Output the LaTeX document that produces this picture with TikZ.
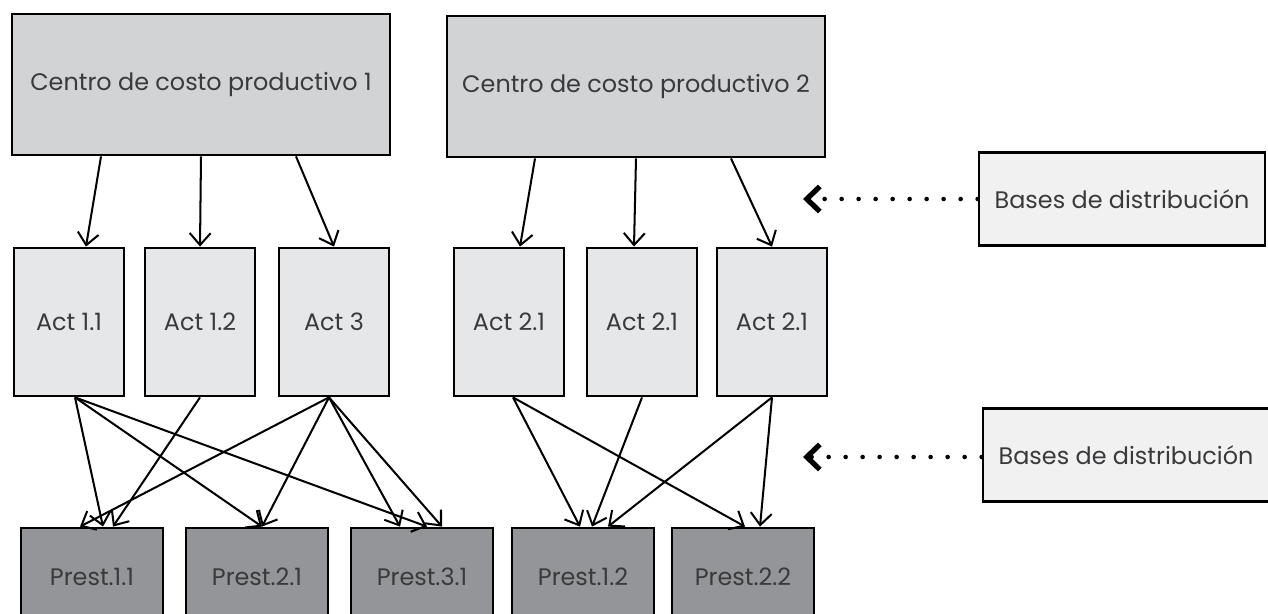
\documentclass[tikz,border=0pt]{standalone}
\usepackage{fontspec}
\setmainfont{Poppins}
\definecolor{centrofill}{HTML}{D1D3D4}
\definecolor{actfill}{HTML}{E6E7E8}
\definecolor{prestfill}{HTML}{939598}
\definecolor{basefill}{HTML}{F1F1F2}
\definecolor{txtgray}{HTML}{3A393B}
\usetikzlibrary{arrows.meta,positioning}

\begin{document}
\begin{tikzpicture}[x=0.02cm,y=-0.02cm,
    box/.style={rectangle,draw=black,line width=1.6pt,inner sep=0pt,
                align=center,text=txtgray,font=\fontsize{13.6}{16}\selectfont},
    centro/.style={box,fill=centrofill,minimum width=7.56cm,minimum height=2.82cm},
    act/.style={box,fill=actfill,minimum width=2.2cm,minimum height=2.96cm},
    prest/.style={box,fill=prestfill,minimum width=2.84cm,minimum height=1.96cm},
    base/.style={box,fill=basefill,minimum width=5.72cm,minimum height=1.86cm},
    arr/.style={-{Straight Barb[length=0.24cm,width=0.42cm]},line width=1.15pt},
    dots/.style={-{Straight Barb[length=0.26cm,width=0.5cm,line width=3pt]},
                 line width=2.6pt,line cap=round,dash pattern=on 0pt off 0.34cm}]
  \useasboundingbox (0,0) rectangle (1268,614);

  % centros de costo
  \node[centro] (c1) at (201,84.5) {Centro de costo productivo 1};
  \node[centro] (c2) at (636,86.5) {Centro de costo productivo 2};

  % actividades
  \node[act] (a11) at (69,322) {Act 1.1};
  \node[act] (a12) at (200,322) {Act 1.2};
  \node[act] (a13) at (334,322) {Act 3};
  \node[act] (a21) at (509,322) {Act 2.1};
  \node[act] (a22) at (642,322) {Act 2.1};
  \node[act] (a23) at (772,322) {Act 2.1};

  % prestaciones
  \node[prest] (p11) at (92,577) {Prest.1.1};
  \node[prest] (p21) at (257,577) {Prest.2.1};
  \node[prest] (p31) at (422,577) {Prest.3.1};
  \node[prest] (p12) at (583,577) {Prest.1.2};
  \node[prest] (p22) at (743,577) {Prest.2.2};

  % bases de distribucion
  \node[base] (b1) at (1122,199) {Bases de distribución};
  \node[base] (b2) at (1126,455) {Bases de distribución};
  \coordinate (t1) at (803,199);
  \coordinate (t2) at (803,457);
  \draw[dots] (b1.west) -- (t1);
  \draw[dots] ([yshift=-0.04cm]b2.west) -- (t2);

  % centro -> actividad
  \draw[arr] ([xshift=-2cm]c1.south) -- ([xshift=0.34cm]a11.north);
  \draw[arr] (c1.south) -- (a12.north);
  \draw[arr] ([xshift=1.9cm]c1.south) -- (a13.north);
  \draw[arr] ([xshift=-2.02cm]c2.south) -- ([xshift=0.22cm]a21.north);
  \draw[arr] (c2.south) -- ([xshift=-0.16cm]a22.north);
  \draw[arr] ([xshift=1.9cm]c2.south) -- (a23.north);

  % actividad -> prestacion
  \draw[arr] ([xshift=0.12cm]a11.south) -- ([xshift=0.22cm]p11.north);
  \draw[arr] ([xshift=0.12cm]a11.south) -- ([xshift=0.1cm]p21.north);
  \draw[arr] ([xshift=0.12cm]a11.south) -- ([xshift=0.1cm]p31.north);
  \draw[arr] (a12.south) -- ([xshift=0.42cm]p11.north);
  \draw[arr] ([xshift=-0.1cm]a13.south) -- ([xshift=-0.24cm]p11.north);
  \draw[arr] ([xshift=-0.1cm]a13.south) -- ([xshift=0.1cm]p21.north);
  \draw[arr] ([xshift=-0.1cm]a13.south) -- ([xshift=-0.44cm]p31.north);
  \draw[arr] ([xshift=-0.1cm]a13.south) -- ([xshift=0.4cm]p31.north);
  \draw[arr] ([xshift=0.08cm]a21.south) -- ([xshift=-0.06cm]p12.north);
  \draw[arr] ([xshift=0.08cm]a21.south) -- ([xshift=0.04cm]p22.north);
  \draw[arr] (a22.south) -- ([xshift=0.18cm]p12.north);
  \draw[arr] (a23.south) -- ([xshift=0.5cm]p12.north);
  \draw[arr] (a23.south) -- ([xshift=0.34cm]p22.north);
\end{tikzpicture}
\end{document}
